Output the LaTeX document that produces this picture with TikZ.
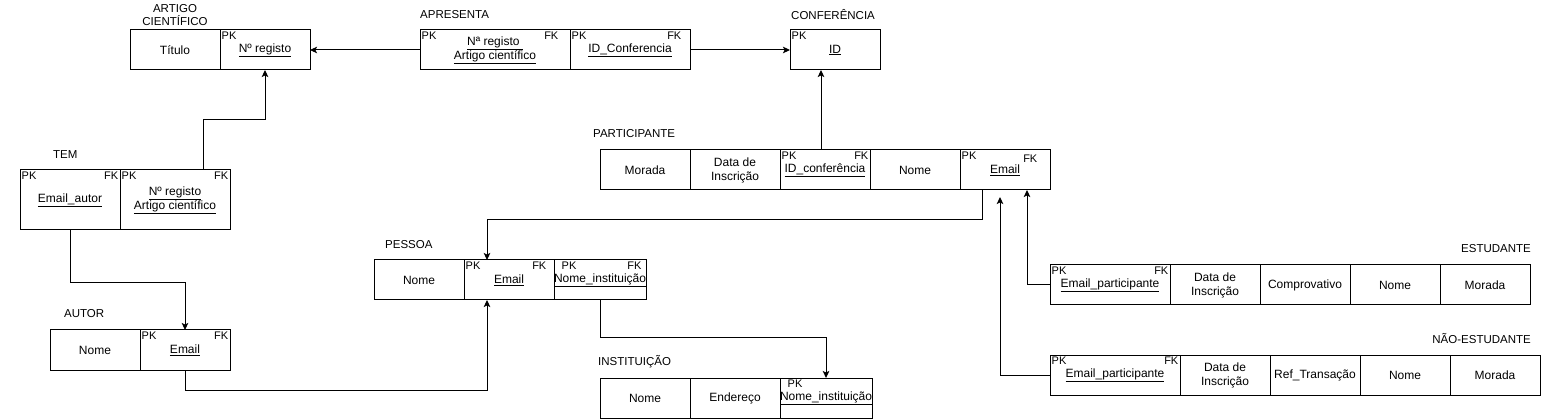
\documentclass[tikz,border=0pt]{standalone}
\usepackage{fontspec}
\setmainfont{Liberation Sans}
\usetikzlibrary{arrows.meta}
\tikzset{
  cell/.style={draw, line width=1pt, minimum height=40pt, inner sep=0pt, outer sep=0pt,
    anchor=north west, align=center, font=\fontsize{12}{14}\selectfont},
  ttl/.style={font=\fontsize{11.5}{13.5}\selectfont, inner sep=0pt, align=center},
  key/.style={font=\fontsize{11}{12}\selectfont, inner sep=1.5pt},
  conn/.style={line width=1pt, -{Stealth[length=7pt,width=6.5pt,inset=1.5pt]}},
}
\begin{document}
\begin{tikzpicture}[x=1pt,y=-1pt]
\useasboundingbox (0,0) rectangle (1541,419);

% ARTIGO CIENTIFICO
\node[ttl] (tart) at (175,15) {ARTIGO\\CIENTÍFICO};
\node[cell, minimum width=90pt] (art1) at (130,30) {Título};
\node[cell, minimum width=90pt] (art2) at (220,30) {\underline{Nº registo}};
\node[key, anchor=north west] (art2pk) at (art2.north west) {PK};

% APRESENTA
\node[ttl, anchor=west] (tapr) at (420,15) {APRESENTA};
\node[cell, minimum width=150pt] (apr1) at (420,30) {\underline{Nª registo }\\\underline{Artigo científico}};
\node[cell, minimum width=120pt] (apr2) at (570,30) {\underline{ID\_Conferencia}};
\node[key, anchor=north west] (apr1pk) at (apr1.north west) {PK};
\node[key, anchor=north east, xshift=-10pt] (apr1fk) at (apr1.north east) {FK};
\node[key, anchor=north west] (apr2pk) at (apr2.north west) {PK};
\node[key, anchor=north east, xshift=-7pt] (apr2fk) at (apr2.north east) {FK};

% CONFERENCIA
\node[ttl, anchor=west] (tconf) at (791,15) {CONFERÊNCIA};
\node[cell, minimum width=90pt] (conf) at (790,30) {\underline{ID}};
\node[key, anchor=north west] (confpk) at (conf.north west) {PK};

% PARTICIPANTE
\node[ttl, anchor=west] (tpart) at (593,134) {PARTICIPANTE};
\node[cell, minimum width=90pt] (part1) at (600,150) {Morada};
\node[cell, minimum width=90pt] (part2) at (690,150) {Data de\\Inscrição};
\node[cell, minimum width=90pt] (part3) at (780,150) {\underline{ID\_conferência}};
\node[cell, minimum width=90pt] (part4) at (870,150) {Nome};
\node[cell, minimum width=90pt] (part5) at (960,150) {\underline{Email}};
\node[key, anchor=north west] (part3pk) at (part3.north west) {PK};
\node[key, anchor=north east] (part3fk) at (part3.north east) {FK};
\node[key, anchor=north west] (part5pk) at (part5.north west) {PK};
\node[key, anchor=north east, xshift=-11pt, yshift=-3pt] (part5fk) at (part5.north east) {FK};

% TEM
\node[ttl, anchor=west] (ttem) at (53,155) {TEM};
\node[cell, minimum width=100pt, minimum height=60pt] (tem1) at (20,170) {\underline{Email\_autor}};
\node[cell, minimum width=110pt, minimum height=60pt] (tem2) at (120,170) {\underline{Nº registo}\\\underline{Artigo científico}};
\node[key, anchor=north west] (tem1pk) at (tem1.north west) {PK};
\node[key, anchor=north east] (tem1fk) at (tem1.north east) {FK};
\node[key, anchor=north west] (tem2pk) at (tem2.north west) {PK};
\node[key, anchor=north east] (tem2fk) at (tem2.north east) {FK};

% PESSOA
\node[ttl, anchor=west] (tpes) at (385,245) {PESSOA};
\node[cell, minimum width=90pt] (pes1) at (374,260) {Nome};
\node[cell, minimum width=90pt] (pes2) at (464,260) {\underline{Email}};
\node[cell, minimum width=90pt] (pes3) at (554,260) {\underline{Nome\_instituição}};
\node[key, anchor=north west] (pes2pk) at (pes2.north west) {PK};
\node[key, anchor=north east, xshift=-6pt] (pes2fk) at (pes2.north east) {FK};
\node[key, anchor=north west, xshift=6pt] (pes3pk) at (pes3.north west) {PK};
\node[key, anchor=north east, xshift=-3pt] (pes3fk) at (pes3.north east) {FK};

% AUTOR
\node[ttl, anchor=west] (taut) at (64,314) {AUTOR};
\node[cell, minimum width=90pt] (aut1) at (50,330) {Nome};
\node[cell, minimum width=90pt] (aut2) at (140,330) {\underline{Email}};
\node[key, anchor=north west] (aut2pk) at (aut2.north west) {PK};
\node[key, anchor=north east] (aut2fk) at (aut2.north east) {FK};

% INSTITUICAO
\node[ttl, anchor=west] (tinst) at (598,362) {INSTITUIÇÃO};
\node[cell, minimum width=90pt] (inst1) at (600,378) {Nome};
\node[cell, minimum width=90pt] (inst2) at (690,378) {Endereço};
\node[cell, minimum width=90pt] (inst3) at (780,378) {\underline{Nome\_instituição}};
\node[key, anchor=north west, xshift=6pt] (inst3pk) at (inst3.north west) {PK};

% ESTUDANTE
\node[ttl, anchor=east] (test) at (1531,249) {ESTUDANTE};
\node[cell, minimum width=120pt] (est1) at (1050,265) {\underline{Email\_participante}};
\node[cell, minimum width=90pt] (est2) at (1170,265) {Data de\\Inscrição};
\node[cell, minimum width=90pt] (est3) at (1260,265) {Comprovativo};
\node[cell, minimum width=90pt] (est4) at (1350,265) {Nome};
\node[cell, minimum width=90pt] (est5) at (1440,265) {Morada};
\node[key, anchor=north west] (est1pk) at (est1.north west) {PK};
\node[key, anchor=north east] (est1fk) at (est1.north east) {FK};

% NAO-ESTUDANTE
\node[ttl, anchor=east] (tnest) at (1531,339) {NÃO-ESTUDANTE};
\node[cell, minimum width=130pt] (nest1) at (1050,355) {\underline{Email\_participante}};
\node[cell, minimum width=90pt] (nest2) at (1180,355) {Data de\\Inscrição};
\node[cell, minimum width=90pt] (nest3) at (1270,355) {Ref\_Transação};
\node[cell, minimum width=90pt] (nest4) at (1360,355) {Nome};
\node[cell, minimum width=90pt] (nest5) at (1450,355) {Morada};
\node[key, anchor=north west] (nest1pk) at (nest1.north west) {PK};
\node[key, anchor=north east] (nest1fk) at (nest1.north east) {FK};

% connectors
\draw[conn] ([xshift=28pt]tem2.north) -- ++(0,-50) -| (art2.south);
\draw[conn] (apr1.west) -- (art2.east);
\draw[conn] (apr2.east) -- (conf.west);
\draw[conn] ([xshift=-4pt]part3.north) -- ([xshift=-4pt]part3.north |- conf.south);
\draw[conn] ([xshift=-23pt]part5.south) -- ++(0,30) -| ([xshift=-22pt]pes2.north);
\draw[conn] (est1.west) -| ([xshift=22pt]part5.south);
\draw[conn] (nest1.west) -| ([xshift=-5pt,yshift=-7pt]part5.south);
\draw[conn] (tem1.south) -- ++(0,53) -| (aut2.north);
\draw[conn] (aut2.south) -- ++(0,20) -| ([xshift=-22pt]pes2.south);
\draw[conn] (pes3.south) -- ++(0,38) -| (inst3.north);
\end{tikzpicture}
\end{document}
